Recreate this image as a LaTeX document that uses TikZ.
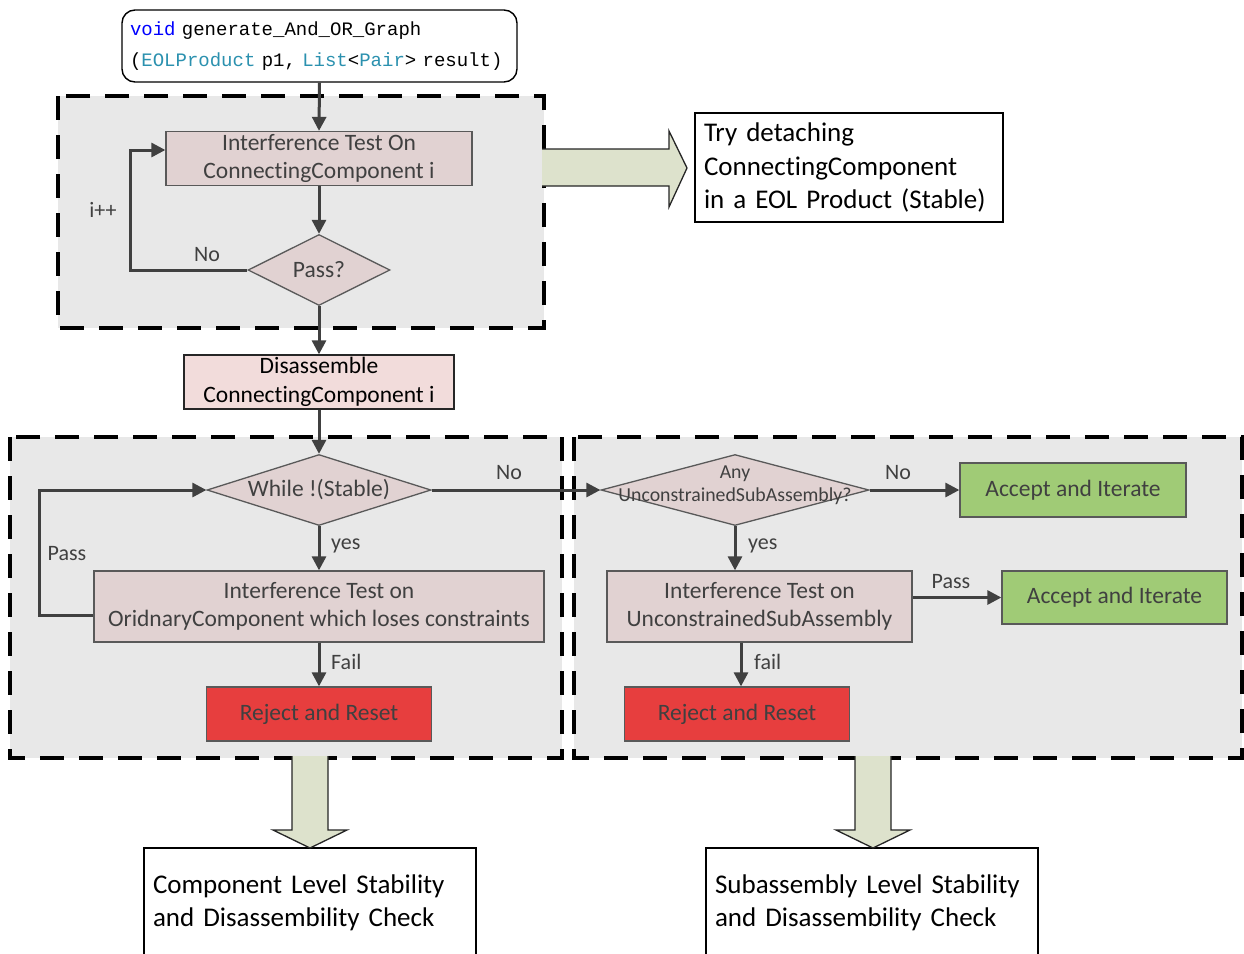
\documentclass[tikz,border=0pt]{standalone}
\usepackage{fontspec}
\setmainfont{Carlito}[Ligatures=NoCommon]
\newfontfamily\codefont{Liberation Mono}
\usetikzlibrary{arrows.meta,shapes.geometric,calc}
\definecolor{regionfill}{RGB}{232,232,232}
\definecolor{procfill}{RGB}{225,210,210}
\definecolor{disfill}{RGB}{242,220,219}
\definecolor{accfill}{RGB}{160,203,118}
\definecolor{rejfill}{RGB}{231,62,62}
\definecolor{blockfill}{RGB}{221,226,204}
\definecolor{linegray}{RGB}{64,64,64}
\definecolor{bordergray}{RGB}{89,89,89}
\definecolor{kwblue}{RGB}{0,0,255}
\definecolor{tyteal}{RGB}{43,145,175}
\tikzset{
  region/.style={draw=black,fill=regionfill,line width=3.2pt,dash pattern=on 24pt off 15pt},
  procbox/.style={rectangle,draw=bordergray,fill=procfill,line width=1.3pt,inner sep=0pt,align=center,
    text=linegray,font=\fontsize{23.5}{28.5}\selectfont},
  disbox/.style={procbox,fill=disfill,draw=black!85,text=black},
  accbox/.style={procbox,fill=accfill},
  rejbox/.style={procbox,fill=rejfill,text=black!75},
  decbox/.style={diamond,draw=bordergray,fill=procfill,line width=1.3pt,inner sep=0pt},
  dectext/.style={text=linegray,align=center},
  conn/.style={draw=linegray,line width=3pt,-{Triangle[length=14pt,width=14pt]}},
  lbl/.style={text=linegray,font=\fontsize{22}{26}\selectfont,inner sep=0pt},
  outbox/.style={rectangle,draw=black,line width=2pt,fill=white,align=left,inner xsep=9pt,inner ysep=0pt,
    font=\fontsize{27}{33.5}\selectfont},
  blockarrow/.style={fill=blockfill,draw=none},
  blockedge/.style={draw=black!85,line width=1.3pt,line join=miter},
}
\begin{document}
\begin{tikzpicture}[x=1pt,y=-1pt]
\useasboundingbox (0,0) rectangle (1244,953);
\fill[white] (0,0) rectangle (1244,953);

% dashed regions
\draw[region] (58,96) rectangle (544,328);
\draw[region] (10,437) rectangle (562,758);
\draw[region] (574,437) rectangle (1242,758);

% code header
\node[rectangle,rounded corners=13pt,draw=black,line width=1.4pt,fill=white,minimum width=395pt,minimum height=72pt,
  inner xsep=8pt,inner ysep=0pt,align=left,text width=379pt,font=\codefont\fontsize{19}{31}\selectfont]
  (code) at (319.5,46) {\textcolor{kwblue}{void} generate\_And\_OR\_Graph\\(\textcolor{tyteal}{EOLProduct} p1, \textcolor{tyteal}{List}<\textcolor{tyteal}{Pair}> result)};

% top loop
\node[procbox,minimum width=306pt,minimum height=54pt] (box1) at (319,158.5) {Interference Test On\\ConnectingComponent i};
\node[decbox,minimum width=142pt,minimum height=71pt] (pass) at (319,270) {};
\node[dectext,font=\fontsize{23.5}{28}\selectfont] at (pass) {Pass?};
\node[disbox,minimum width=270pt,minimum height=54pt] (dis) at (319,382) {Disassemble\\ConnectingComponent i};

\draw[conn] (code.south) -- (box1.north);
\draw[conn] (box1.south) -- (pass.north);
\coordinate (lp) at (130,270);
\coordinate (in1) at ([yshift=8.5pt]box1.west);
\draw[conn] (pass.west) -- (lp) -- (lp |- in1) -- (in1);
\node[lbl] at (207,255) {No};
\node[lbl] at (103,210) {i++};
\draw[conn] (pass.south) -- (dis.north);

% right block arrow and description
\node[outbox,minimum width=308pt,minimum height=109pt,text width=290pt] (try) at (849,167.5)
  {Try detaching\\ConnectingComponent\\in a EOL Product (Stable)};
\fill[blockarrow] (542,149) -- (669,149) -- (669,131) -- (687,168) -- (669,207) -- (669,186) -- (542,186) -- cycle;
\draw[blockedge] (542,149) -- (669,149) -- (669,131) -- (687,168) -- (669,207) -- (669,186) -- (542,186);

% left region
\node[decbox,minimum width=224pt,minimum height=71pt] (d2) at (319,490) {};
\node[dectext,font=\fontsize{23.5}{28}\selectfont] at (d2) {While !(Stable)};
\node[procbox,minimum width=450pt,minimum height=71pt] (box3) at (319,606.5) {Interference Test on\\OridnaryComponent which loses constraints};
\node[rejbox,minimum width=225pt,minimum height=54pt] (rej1) at (319,714) {Reject and Reset};

\draw[conn] (dis.south) -- (d2.north);
\draw[conn] (d2.south) -- (box3.north);
\node[lbl,anchor=west] at (331,546) {yes};
\draw[conn] ([yshift=-8.5pt]box3.west) -- ++(-54,0) |- (d2.west);
\node[lbl] at (67,554) {Pass};
\draw[conn] (box3.south) -- (rej1.north);
\node[lbl,anchor=west] at (331,662) {Fail};

% right region
\node[decbox,minimum width=268pt,minimum height=71pt] (d3) at (735,490) {};
\node[dectext,font=\fontsize{19.8}{23}\selectfont] at ([yshift=5pt]d3.center) {Any\\UnconstrainedSubAssembly?};
\node[accbox,minimum width=226pt,minimum height=54pt] (acc1) at (1073,490) {Accept and Iterate};
\node[procbox,minimum width=305pt,minimum height=71pt] (box4) at (759.5,606.5) {Interference Test on\\UnconstrainedSubAssembly};
\node[accbox,minimum width=225pt,minimum height=53pt] (acc2) at (1114.5,597.5) {Accept and Iterate};
\node[rejbox,minimum width=225pt,minimum height=54pt] (rej2) at (737,714) {Reject and Reset};

\draw[conn] (d2.east) -- (d3.west);
\node[lbl] at (509,473) {No};
\draw[conn] (d3.east) -- (acc1.west);
\node[lbl] at (898,473) {No};
\draw[conn] (d3.south) -- (d3.south |- box4.north);
\node[lbl,anchor=west] at (748,546) {yes};
\draw[conn] (box4.east |- acc2.west) -- (acc2.west);
\node[lbl] at (951,582) {Pass};
\coordinate (fc) at (741,660);
\draw[conn] (box4.south -| fc) -- (rej2.north -| fc);
\node[lbl,anchor=west] at (754,662) {fail};

% bottom outputs
\node[outbox,minimum width=332pt,minimum height=110pt,text width=314pt] (compL) at (310,903)
  {Component Level Stability\\and Disassembility Check};
\node[outbox,minimum width=332pt,minimum height=110pt,text width=314pt] (compR) at (872,903)
  {Subassembly Level Stability\\and Disassembility Check};

\fill[blockarrow] (292,756) -- (292,830) -- (273,830) -- (310,848) -- (347,830) -- (328,830) -- (328,756) -- cycle;
\draw[blockedge] (292,756) -- (292,830) -- (273,830) -- (310,848) -- (347,830) -- (328,830) -- (328,756);
\fill[blockarrow] (855,756) -- (855,830) -- (836,830) -- (873,848) -- (910,830) -- (891,830) -- (891,756) -- cycle;
\draw[blockedge] (855,756) -- (855,830) -- (836,830) -- (873,848) -- (910,830) -- (891,830) -- (891,756);
\end{tikzpicture}
\end{document}
